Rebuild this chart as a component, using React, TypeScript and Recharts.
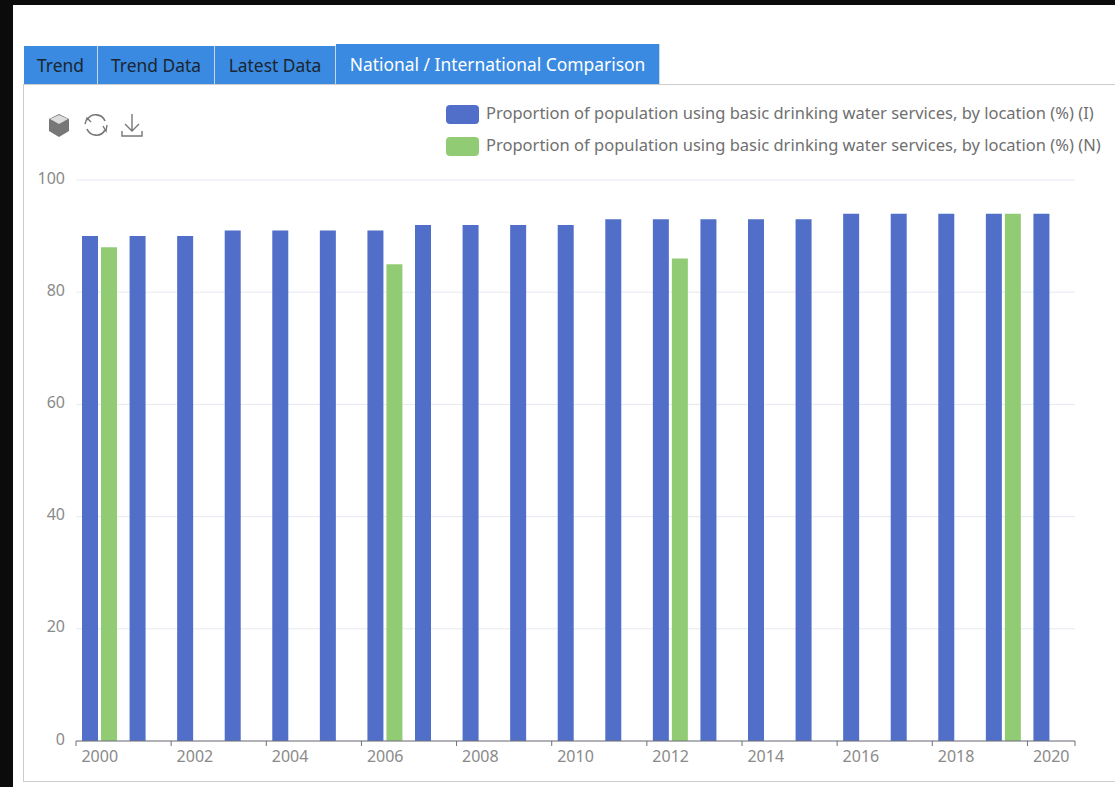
import React from 'react'
import { BarChart, Bar, XAxis, YAxis, CartesianGrid, Legend } from 'recharts'

const years = ['2000', '2001', '2002', '2003', '2004', '2005', '2006', '2007', '2008', '2009', '2010', '2011', '2012', '2013', '2014', '2015', '2016', '2017', '2018', '2019', '2020']
const international = [90, 90, 90, 91, 91, 91, 91, 92, 92, 92, 92, 93, 93, 93, 93, 93, 94, 94, 94, 94, 94]
const national = [88, null, null, null, null, null, 85, null, null, null, null, null, 86, null, null, null, null, null, null, 94, null]
const yTicks = [0, 20, 40, 60, 80, 100]
const tabs = ['Trend', 'Trend Data', 'Latest Data', 'National / International Comparison']
const tabWidths = [74, 117, 121, 324]

const seriesI = 'Proportion of population using basic drinking water services, by location (%) (I)'
const seriesN = 'Proportion of population using basic drinking water services, by location (%) (N)'

const data = years.map((year, i) => ({ year, i: international[i], n: national[i] }))

const font = '"Noto Sans", sans-serif'
const BLUE = '#516fc8'
const GREEN = '#91cc75'
const plotLeft = 76
const plotRight = 1075
const band = (plotRight - plotLeft) / years.length

// ticks sit on the band edges, labels on the band centres
function YearTick({ x, y, payload }: any) {
  const last = payload.value === years[years.length - 1]
  return (
    <g>
      <line x1={x - band / 2} x2={x - band / 2} y1={y - 8} y2={y - 3} stroke="#6e7079" />
      {last && <line x1={x + band / 2} x2={x + band / 2} y1={y - 8} y2={y - 3} stroke="#6e7079" />}
      <text x={x} y={y + 13} textAnchor="middle" fontSize={16} fill="#8a8a8a" fontFamily={font}>
        {payload.value}
      </text>
    </g>
  )
}

function LegendBox({ payload }: any) {
  return (
    <div style={{ fontFamily: font }}>
      {payload.map((p: any) => (
        <div key={p.value} style={{ display: 'flex', alignItems: 'center', height: 32 }}>
          <span style={{ width: 33, height: 19, borderRadius: 4, background: p.color, marginRight: 7 }} />
          <span style={{ fontSize: 16.5, color: '#707070', whiteSpace: 'nowrap', position: 'relative', top: -2 }}>{p.value}</span>
        </div>
      ))}
    </div>
  )
}

function Tabs() {
  let left = 24
  return (
    <>
      {tabs.map((t, i) => {
        const active = i === tabs.length - 1
        const el = (
          <div
            key={t}
            style={{
              position: 'absolute',
              left,
              top: active ? 44 : 46,
              width: tabWidths[i] - 1,
              height: active ? 40 : 38,
              background: '#398ae0',
              borderRight: '1px solid #c9d6e4',
              color: active ? '#fff' : '#1c2530',
              fontSize: 17.4,
              fontFamily: font,
              textAlign: 'center',
              lineHeight: active ? '40px' : '38px',
              whiteSpace: 'nowrap',
            }}
          >
            {t}
          </div>
        )
        left += tabWidths[i]
        return el
      })}
    </>
  )
}

function Toolbar() {
  return (
    <svg style={{ position: 'absolute', left: 44, top: 110 }} width={104} height={32} viewBox="0 0 104 32">
      <path d="M15 4 L25 9 L25 21 L15 27 L5 21 L5 9 Z" fill="#777" />
      <path d="M6 9 L15 14 L24 9 L15 5 Z" fill="#ddd" />
      <path d="M43 10 A10 10 0 0 1 61 11 M61 20 A10 10 0 0 1 43 19" fill="none" stroke="#777" strokeWidth={1.6} />
      <path d="M41 14 L43 8 L47 12 M59 16 L62 21 L63 15" fill="none" stroke="#777" strokeWidth={1.4} />
      <path d="M88 4 V20 M81 14 L88 21 L95 14 M78 21 V26 H98 V21" fill="none" stroke="#777" strokeWidth={1.4} />
    </svg>
  )
}

export default function App() {
  return (
    <div style={{ position: 'absolute', left: 0, top: 0, width: 1115, height: 787, background: '#0b0b0b', overflow: 'hidden' }}>
      <div style={{ position: 'absolute', left: 13, top: 5, width: 1102, height: 782, background: '#fff' }} />
      <div style={{ position: 'absolute', left: 23, top: 84, width: 1100, height: 696, border: '1px solid #ccc' }} />
      <Tabs />
      <Toolbar />
      <div style={{ position: 'absolute', left: 0, top: 0 }}>
        <BarChart
          width={1115}
          height={787}
          data={data}
          barSize={16}
          barGap={3}
          margin={{ top: 116, right: 40, bottom: 16, left: 16 }}
        >
          <CartesianGrid vertical={false} stroke="#e6e9f0" />
          <XAxis
            dataKey="year"
            interval={1}
            height={30}
            tick={<YearTick />}
            tickLine={false}
            axisLine={{ stroke: '#6e7079' }}
          />
          <YAxis
            width={60}
            domain={[0, 100]}
            ticks={yTicks}
            tickLine={false}
            axisLine={false}
            tickMargin={5}
            dy={-2}
            tick={{ fontSize: 16, fill: '#8a8a8a', fontFamily: font }}
          />
          <Legend
            content={<LegendBox />}
            verticalAlign="top"
            wrapperStyle={{ position: 'absolute', left: 446, top: 98, width: 660 }}
          />
          <Bar dataKey="i" name={seriesI} fill={BLUE} isAnimationActive={false} />
          <Bar dataKey="n" name={seriesN} fill={GREEN} isAnimationActive={false} />
        </BarChart>
      </div>
    </div>
  )
}
